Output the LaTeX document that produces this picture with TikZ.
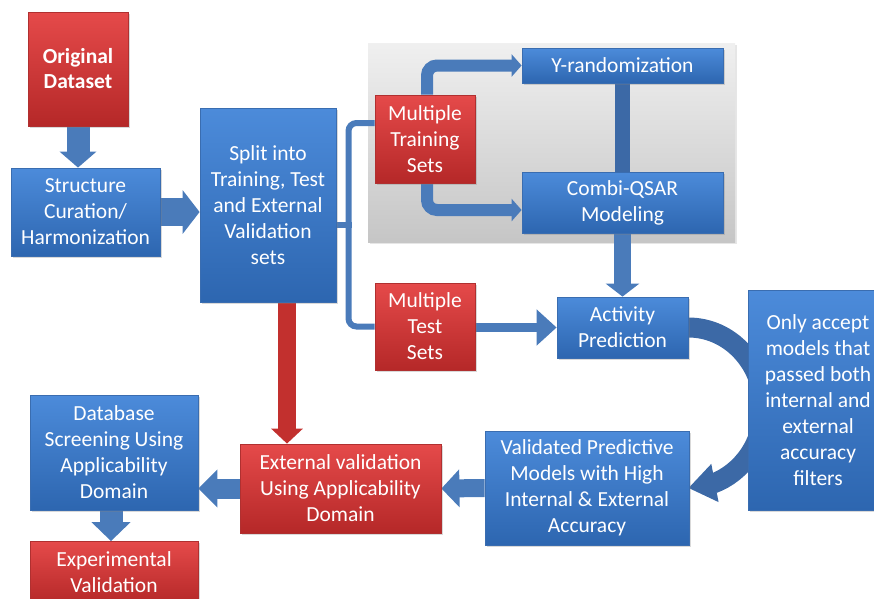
\documentclass[tikz,border=0pt]{standalone}
\usepackage{fontspec}
\setmainfont{Carlito}
\usetikzlibrary{arrows.meta,shadows,bending}
\pgfdeclarelayer{back}
\pgfdeclarelayer{mid}
\pgfsetlayers{back,mid,main}
\definecolor{bTop}{HTML}{4C8BDA}
\definecolor{bBot}{HTML}{2D66B0}
\definecolor{bEdge}{HTML}{3A6DB0}
\definecolor{rTop}{HTML}{E54A4A}
\definecolor{rBot}{HTML}{B52828}
\definecolor{rEdge}{HTML}{B03030}
\definecolor{arrB}{HTML}{4A7BBA}
\definecolor{arrBd}{HTML}{3C69A6}
\definecolor{arrR}{HTML}{C2302E}
\begin{document}
\begin{tikzpicture}[x=1pt,y=1pt,
  box/.style={inner sep=0pt, align=center, text=white,
    font=\fontsize{21.5}{26}\selectfont, line width=0.8pt,
    drop shadow={shadow xshift=1.5pt,shadow yshift=-1.5pt,opacity=0.3}},
  bluebox/.style={box, draw=bEdge, top color=bTop, bottom color=bBot},
  redbox/.style={box, draw=rEdge, top color=rTop, bottom color=rBot},
  barr/.style 2 args={draw=arrB, line width=#1, -{Triangle[length=#2]}},
  harr/.style={line cap=butt},
]
\useasboundingbox (0,0) rectangle (874,-598);

% gray panel
\begin{pgfonlayer}{back}
\node[draw=none, top color=gray!12, bottom color=gray!45, minimum width=367pt, minimum height=199pt, inner sep=0pt,
  drop shadow={shadow xshift=1.5pt,shadow yshift=-1.5pt,opacity=0.2}] (panel) at (551.5,-142.5) {};
\end{pgfonlayer}

% boxes
\node[redbox, minimum width=100pt, minimum height=114pt, font=\fontsize{21.5}{25}\selectfont\bfseries] (orig) at (78,-69) {Original\\Dataset};
\node[bluebox, minimum width=149pt, minimum height=88pt] (struct) at (85.5,-212) {Structure\\Curation/\\Harmonization};
\node[bluebox, minimum width=136pt, minimum height=194pt] (split) at (268,-205) {Split into\\Training, Test\\and External\\Validation\\sets};
\node[redbox, minimum width=100pt, minimum height=88pt] (train) at (425,-139) {Multiple\\Training\\Sets};
\node[bluebox, minimum width=201pt, minimum height=35pt] (yrand) at (622.5,-65.5) {Y-randomization};
\node[bluebox, minimum width=201pt, minimum height=61pt] (combi) at (622.5,-202.5) {Combi-QSAR\\Modeling};
\node[redbox, minimum width=100pt, minimum height=87pt] (test) at (425,-326.5) {Multiple\\Test\\Sets};
\node[bluebox, minimum width=131pt, minimum height=61pt] (act) at (622.5,-327.5) {Activity\\Prediction};
\node[bluebox, minimum width=140pt, minimum height=220pt] (only) at (818,-400) {Only accept\\models that\\passed both\\internal and\\external\\accuracy\\filters};
\node[bluebox, minimum width=204pt, minimum height=114pt] (valid) at (587,-488) {Validated Predictive\\Models with High\\Internal \& External\\Accuracy};
\node[redbox, minimum width=201pt, minimum height=89pt] (ext) at (340.5,-488.5) {External validation\\Using Applicability\\Domain};
\node[bluebox, minimum width=168pt, minimum height=115pt] (db) at (114,-452.5) {Database\\Screening Using\\Applicability\\Domain};
\node[redbox, minimum width=168pt, minimum height=62pt] (exp) at (114,-572.5) {Experimental\\Validation};

% connectors
\begin{pgfonlayer}{mid}
\draw[draw=arrB, line width=23pt, -{Triangle[length=16pt,width=36pt]}] (orig.south) -- (orig.south |- struct.north);
\draw[draw=arrB, line width=28pt, -{Triangle[length=17pt,width=43pt]}] (struct.east) -- (struct.east -| split.west);
\draw[draw=arrR, line width=18pt, -{Triangle[length=15pt,width=31pt]}] ([xshift=19pt]split.south) -- ([xshift=19pt]split.south |- ext.north);
\draw[draw=arrB, line width=18pt, -{Triangle[length=18pt,width=37pt]}] (valid.west) -- (ext.east);
\draw[draw=arrB, line width=20pt, -{Triangle[length=19pt,width=37pt]}] (ext.west) -- (ext.west -| db.east);
\draw[draw=arrB, line width=23pt, -{Triangle[length=19pt,width=38pt]}] ([xshift=-3pt]db.south) -- ([xshift=-3pt]db.south |- exp.north);
\draw[draw=arrBd, line width=15pt] (yrand.south) -- (combi.north);
\draw[draw=arrB, line width=17pt, -{Triangle[length=13pt,width=33pt]}] (combi.south) -- (act.north);
\draw[draw=arrB, line width=9pt, -{Triangle[length=20pt,width=35pt]}] (act.west -| test.east) -- (act.west);
\draw[draw=arrB, line width=12pt, rounded corners=10pt, -{Triangle[length=10pt,width=22pt]}] ([xshift=2pt]train.north) |- (yrand.west);
\draw[draw=arrB, line width=12pt, rounded corners=10pt, -{Triangle[length=10pt,width=22pt]}] ([xshift=2pt]train.south) |- ([yshift=-7.5pt]combi.west);
% bracket
\draw[draw=arrB, line width=6pt] (split.east |- 0,-225) -- (351.5,-225);
\draw[draw=arrB, line width=6pt, rounded corners=8pt] ([yshift=16pt]train.west) -| (348.5,-225) |- (test.west);
% curved arrow
\draw[draw=arrBd, line width=20pt, -{Triangle[length=27pt,width=37pt]}] (act.east) arc[start angle=90, end angle=-90, x radius=75, y radius=80.25];
\end{pgfonlayer}
\end{tikzpicture}
\end{document}
